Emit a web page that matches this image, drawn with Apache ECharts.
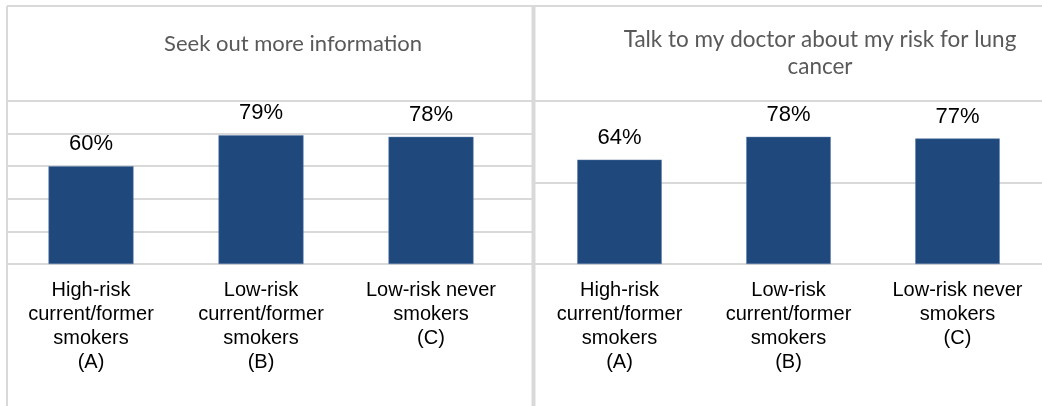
<!DOCTYPE html>
<html>
<head>
<meta charset="utf-8">
<script src="https://cdn.jsdelivr.net/npm/echarts@6/dist/echarts.min.js"></script>
<style>
  html, body { margin: 0; padding: 0; background: #fff; }
  #chart { width: 1042px; height: 406px; }
</style>
</head>
<body>
<div id="chart"></div>
<script>
// 分类
const categories = [
  'High-risk\ncurrent/former\nsmokers\n(A)',
  'Low-risk\ncurrent/former\nsmokers\n(B)',
  'Low-risk never\nsmokers\n(C)'
]
// 两个面板的数值 (%)
const seekInfo = [60, 79, 78]
const talkDoctor = [64, 78, 77]
const panelTitles = ['Seek out more information', 'Talk to my doctor about my risk for lung\ncancer']

const gridColor = '#d9d9d9'
const barColor = '#1f497d'

const chart = echarts.init(document.getElementById('chart'))

const catAxis = (gridIndex) => ({
  type: 'category',
  gridIndex,
  data: categories,
  axisLine: { show: false },
  axisTick: { show: false },
  axisLabel: {
    interval: 0,
    margin: 14,
    color: '#000',
    fontFamily: 'Liberation Sans',
    fontSize: 20,
    lineHeight: 24
  }
})

const valAxis = (gridIndex, interval, showSplit) => ({
  type: 'value',
  gridIndex,
  min: 0,
  max: 100,
  interval,
  axisLabel: { show: false },
  axisLine: { show: false },
  axisTick: { show: false },
  splitLine: { show: showSplit, lineStyle: { color: gridColor, width: 2 } }
})

const barSeries = (idx, data) => ({
  type: 'bar',
  xAxisIndex: idx,
  yAxisIndex: idx,
  data,
  barWidth: '50%',
  itemStyle: { color: barColor, borderColor: '#5b7aa6', borderWidth: 0.5 },
  label: {
    show: true,
    position: 'top',
    distance: 11,
    formatter: '{c}%',
    color: '#000',
    fontFamily: 'Liberation Sans',
    fontSize: 22
  },
  silent: true
})

const option = {
  animation: false,
  backgroundColor: '#fff',
  title: [
    {
      text: panelTitles[0],
      left: 288,
      top: 28,
      textAlign: 'center',
      textStyle: { color: '#595959', fontFamily: 'Lato', fontWeight: 'normal', fontSize: 22 }
    },
    {
      text: panelTitles[1],
      left: 815,
      top: 21,
      textAlign: 'center',
      textStyle: { color: '#595959', fontFamily: 'Lato', fontWeight: 'normal', fontSize: 22.5, lineHeight: 27 }
    }
  ],
  grid: [
    { left: 6, width: 510, top: 101, height: 163 },
    { left: 535, width: 520, top: 101, height: 163 },
    // 左侧网格线延伸到分隔线
    { left: 7, width: 525, top: 101, height: 163 }
  ],
  xAxis: [
    catAxis(0),
    catAxis(1),
    { type: 'category', gridIndex: 2, data: categories, show: false }
  ],
  yAxis: [
    valAxis(0, 20, false),
    valAxis(1, 50, true),
    valAxis(2, 20, true)
  ],
  series: [
    barSeries(0, seekInfo),
    barSeries(1, talkDoctor)
  ],
  graphic: [
    // 外框和中间分隔线
    { type: 'line', shape: { x1: 7, y1: 6, x2: 1042, y2: 6 }, style: { stroke: gridColor, lineWidth: 2 }, silent: true },
    { type: 'line', shape: { x1: 7, y1: 6, x2: 7, y2: 406 }, style: { stroke: gridColor, lineWidth: 2 }, silent: true },
    { type: 'line', shape: { x1: 533.5, y1: 6, x2: 533.5, y2: 406 }, style: { stroke: gridColor, lineWidth: 4 }, silent: true }
  ]
}

chart.setOption(option)
</script>
</body>
</html>
